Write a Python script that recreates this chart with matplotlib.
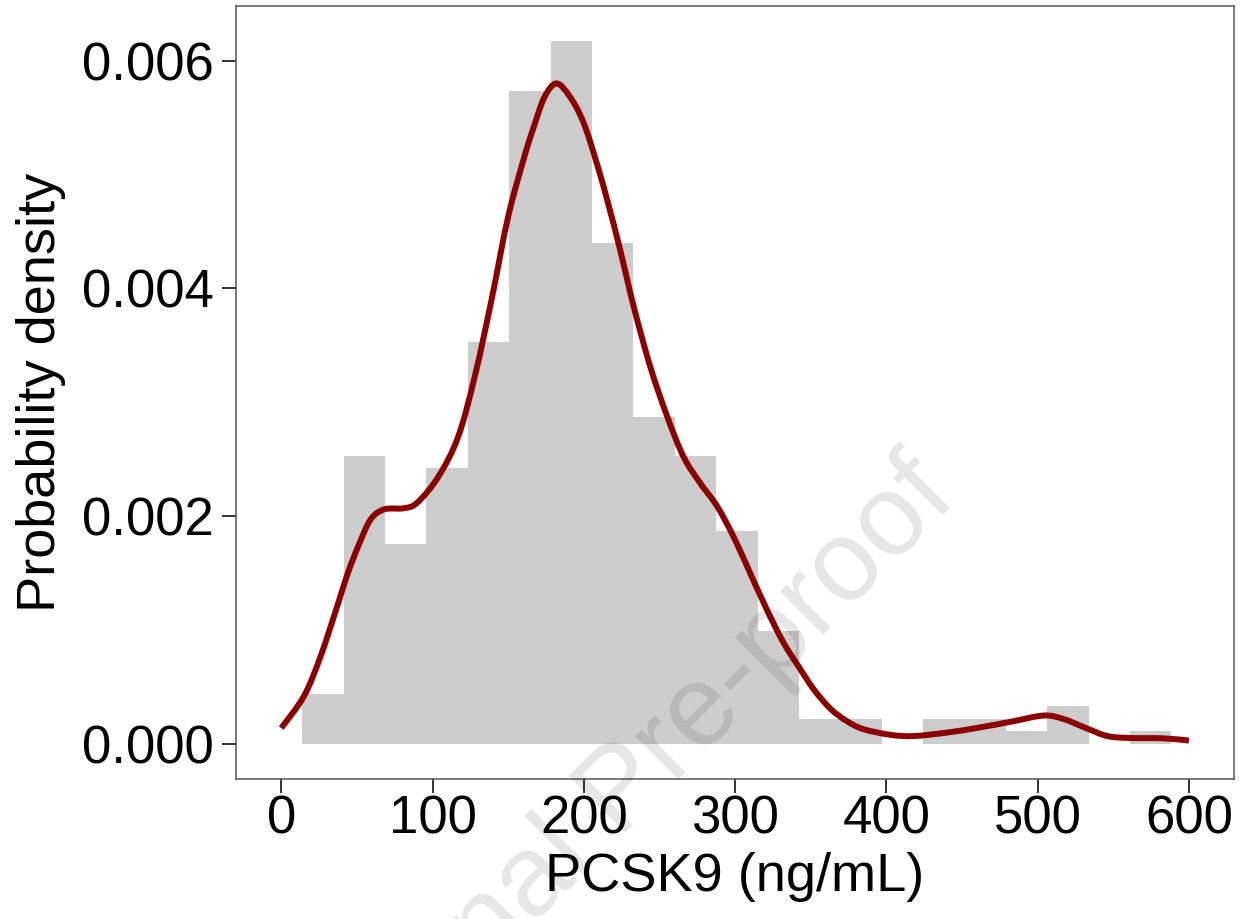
"""
PCSK9 distribution: histogram (probability density) with a density curve.
Outputs: out.png
"""
import matplotlib
matplotlib.use('Agg')
import matplotlib.pyplot as plt
from matplotlib.path import Path
from matplotlib.patches import PathPatch
import numpy as np

plt.rcParams['font.family'] = ['Liberation Sans', 'DejaVu Sans']

# Histogram: 21 equal bins between the smallest and largest value
bin_min = 13.9
bin_max = 588.4
bar_density = [0.00044, 0.00253, 0.00176, 0.00242, 0.00353, 0.00573, 0.00617,
               0.00440, 0.00287, 0.00253, 0.00187, 0.00099, 0.00022, 0.00022,
               0.0, 0.00022, 0.00022, 0.00011, 0.00033, 0.0, 0.00011]

# Density curve
curve_x = [0, 15, 26, 37, 44, 51, 59, 68, 81, 90, 104, 117, 128, 139, 150,
           161, 167, 174, 182, 191, 200, 209, 216, 224, 233, 244, 255, 266,
           277, 288, 299, 310, 321, 332, 343, 352, 363, 374, 385, 403, 418,
           440, 462, 484, 504, 517, 532, 546, 561, 583, 600]
curve_y = [0.00014, 0.00042, 0.00077, 0.00121, 0.00150, 0.00174, 0.00197,
           0.00206, 0.00207, 0.00212, 0.00235, 0.00270, 0.00323, 0.00390,
           0.00463, 0.00517, 0.00542, 0.00568, 0.00580, 0.00568, 0.00545,
           0.00508, 0.00475, 0.00434, 0.00384, 0.00331, 0.00288, 0.00252,
           0.00229, 0.00209, 0.00182, 0.00150, 0.00118, 0.00089, 0.00066,
           0.00048, 0.00031, 0.00020, 0.00013, 0.00008, 0.00007, 0.00010,
           0.000146, 0.00020, 0.00025, 0.00022, 0.00014, 0.00007, 0.000053,
           0.00005, 0.00003]

x_ticks = [0, 100, 200, 300, 400, 500, 600]
y_ticks = [0.000, 0.002, 0.004, 0.006]

edges = np.linspace(bin_min, bin_max, len(bar_density) + 1)


def smooth_path(xs, ys):
    # Catmull-Rom through the read points, drawn as cubic Bezier segments
    p = np.column_stack([xs, ys])
    verts = [p[0]]
    codes = [Path.MOVETO]
    for i in range(len(p) - 1):
        p0 = p[max(i - 1, 0)]
        p3 = p[min(i + 2, len(p) - 1)]
        c1 = p[i] + (p[i + 1] - p0) / 6.0
        c2 = p[i + 1] - (p3 - p[i]) / 6.0
        verts += [c1, c2, p[i + 1]]
        codes += [Path.CURVE4] * 3
    return Path(verts, codes)


fig = plt.figure(figsize=(12.48, 9.19), dpi=100)
ax = fig.add_axes([0.189, 0.152, 0.800, 0.8415])

ax.bar(edges[:-1], bar_density, width=np.diff(edges), align='edge',
       color='#cccccc', linewidth=0, zorder=1)
ax.add_patch(PathPatch(smooth_path(curve_x, curve_y), facecolor='none',
                       edgecolor='#8b0000', linewidth=4.3,
                       capstyle='butt', zorder=2))

ax.set_xlim(-30, 630)
ax.set_ylim(-0.00031, 0.00648)
ax.set_xticks(x_ticks)
ax.set_xticklabels([str(t) for t in x_ticks])
ax.set_yticks(y_ticks)
ax.set_yticklabels(['%.3f' % t for t in y_ticks])

ax.tick_params(axis='both', direction='out', length=10, width=1.4,
               color='#333333', labelsize=38, labelcolor='black')
ax.tick_params(axis='x', pad=1)
ax.tick_params(axis='y', pad=6)
for s in ax.spines.values():
    s.set_color('#555555')
    s.set_linewidth(1.1)

ax.set_xlabel('PCSK9 (ng/mL)', fontsize=39, labelpad=5)
ax.set_ylabel('Probability density', fontsize=39, labelpad=11)

# "Journal Pre-proof" watermark (runs off the bottom edge, as in the source)
fig.text(0.499, 0.137, 'Journal Pre-proof', fontsize=83, rotation=45,
         rotation_mode='anchor', ha='center', va='center',
         color='black', alpha=0.1, zorder=10)

fig.savefig('out.png', dpi=100)
plt.close(fig)
